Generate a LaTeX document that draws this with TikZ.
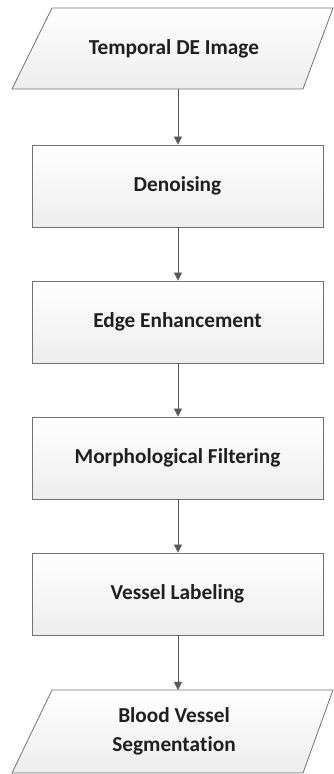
\documentclass[tikz,border=0pt]{standalone}
\usepackage{fontspec}
\setmainfont[RawFeature={-liga;-clig;-dlig;-calt}]{Carlito}
\usetikzlibrary{arrows.meta}
\begin{document}
\begin{tikzpicture}[x=1pt,y=1pt,
  boxstyle/.style={draw=black!55, line width=0.8pt, top color=white, bottom color=black!7},
  procbox/.style={boxstyle, minimum width=291pt, minimum height=82pt, inner sep=0pt},
  lbl/.style={font=\fontsize{21.3}{29}\selectfont\bfseries, align=center, text=black!88},
  conn/.style={draw=black!65, line width=0.8pt, -{Triangle[length=8pt,width=8pt]}}]
\useasboundingbox (0,0) rectangle (334,774);
% input parallelogram
\path[boxstyle] (52,766) -- (333,766) -- (303,685) -- (12,685) -- cycle;
\node[lbl] (in) at (174,725.5) {Temporal DE Image};
\coordinate (inB) at (178,685);
% process boxes
\node[procbox, lbl] (den) at (177.5,588) {Denoising};
\node[procbox, lbl] (edge) at (177.5,452) {Edge Enhancement};
\node[procbox, lbl] (morph) at (177.5,316) {Morphological Filtering};
\node[procbox, lbl] (ves) at (177.5,180) {Vessel Labeling};
% output parallelogram
\path[boxstyle] (52,84) -- (333,84) -- (303,1) -- (12,1) -- cycle;
\node[lbl] (out) at (174,42.5) {Blood Vessel\\Segmenta\kern0pt tion};
\coordinate (outT) at (178,84);
% connectors
\draw[conn] (inB) -- (inB |- den.north);
\draw[conn] (den.south -| inB) -- (inB |- edge.north);
\draw[conn] (edge.south -| inB) -- (inB |- morph.north);
\draw[conn] (morph.south -| inB) -- (inB |- ves.north);
\draw[conn] (ves.south -| inB) -- (outT);
\end{tikzpicture}
\end{document}
